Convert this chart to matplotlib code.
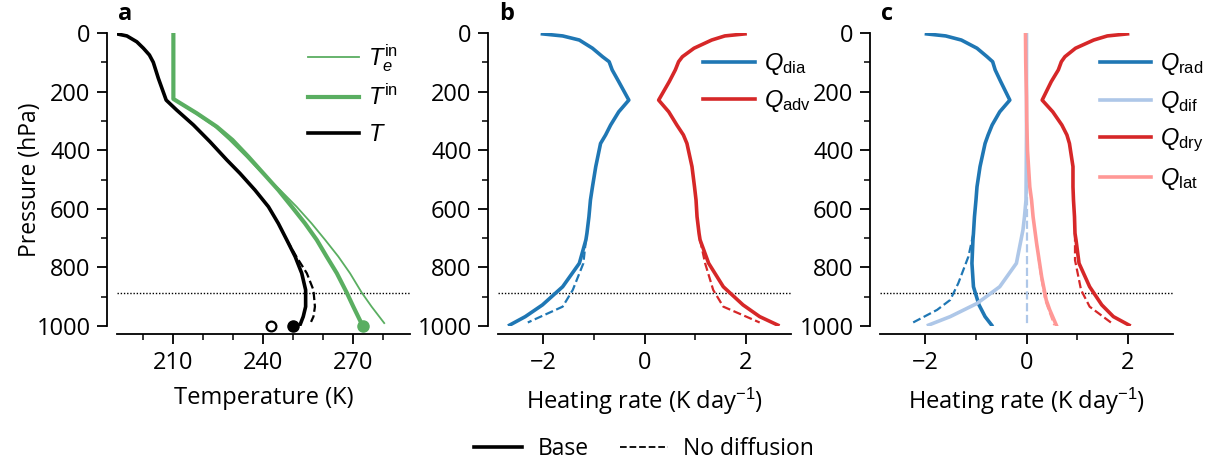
import matplotlib
matplotlib.use("Agg")
import matplotlib.pyplot as plt
from matplotlib.lines import Line2D

plt.rcParams['font.family'] = ['Open Sans', 'DejaVu Sans']
plt.rcParams['font.size'] = 16
plt.rcParams['mathtext.fontset'] = 'custom'
plt.rcParams['mathtext.rm'] = 'Liberation Sans'
plt.rcParams['mathtext.it'] = 'Liberation Sans:italic'
plt.rcParams['axes.linewidth'] = 1.3

# ---- panel a: temperature profiles (K) against pressure (hPa) ----
p_T = [3, 10, 30, 52, 75, 100, 155, 229, 263, 314, 371, 433, 479, 536, 593, 650,
       706, 763, 820, 877, 934, 968, 997]
T_base = [191.3, 194.6, 197.9, 200.1, 202.1, 203.4, 205.1, 207.7, 211.2, 216.8, 222.3,
          227.9, 232.3, 237.3, 241.8, 245.1, 247.9, 250.7, 252.9, 254.2, 254.2, 253.4, 252.3]
p_T_nodif = [706, 763, 820, 877, 934, 968, 986]
T_nodif = [247.9, 251.1, 254.6, 256.8, 257.3, 256.8, 256.0]

p_Tin = [1, 225, 232, 274, 320, 365, 422, 479, 536, 593, 650, 706, 763, 820, 886, 934, 997]
T_in = [210.1, 210.1, 211.2, 217.9, 224.6, 229.8, 235.1, 240.1, 245.1, 249.6, 254.0,
        257.9, 261.2, 264.6, 267.9, 270.1, 273.1]
p_Tein = [225, 232, 274, 320, 365, 422, 479, 536, 593, 650, 706, 763, 820, 886, 934, 990]
T_e_in = [210.1, 211.0, 217.5, 224.0, 228.8, 234.4, 239.7, 245.7, 251.2, 256.2, 260.7,
          265.1, 269.0, 272.9, 276.2, 280.4]

Ts_base, Ts_nodif, Ts_in = 249.9, 242.6, 273.2

# ---- panels b, c: heating rates (K/day) ----
p_Q = [3, 10, 24, 52, 81, 98, 126, 166, 229, 269, 314, 348, 377, 456, 525, 570, 627,
       684, 706, 786, 866, 928, 968, 997]
Q_dia = [-2.02, -1.62, -1.29, -1.03, -0.83, -0.70, -0.64, -0.51, -0.31, -0.51, -0.67,
         -0.77, -0.87, -0.965, -1.03, -1.07, -1.10, -1.14, -1.16, -1.29, -1.62, -2.02,
         -2.36, -2.67]
Q_adv = [1.99, 1.59, 1.33, 0.98, 0.75, 0.675, 0.61, 0.49, 0.28, 0.48, 0.64, 0.77, 0.84,
         0.94, 0.99, 1.02, 1.04, 1.08, 1.10, 1.27, 1.56, 1.95, 2.28, 2.64]
p_b_nodif = [706, 786, 877, 934, 988]
Q_dia_nodif = [-1.16, -1.21, -1.42, -1.62, -2.31]
Q_adv_nodif = [1.10, 1.20, 1.36, 1.56, 2.28]

Q_rad = [-1.98, -1.60, -1.29, -0.98, -0.78, -0.67, -0.62, -0.51, -0.33, -0.53, -0.68,
         -0.76, -0.82, -0.92, -0.98, -1.00, -1.03, -1.05, -1.06, -1.08, -1.05, -0.94,
         -0.82, -0.69]
Q_dry = [2.00, 1.60, 1.33, 0.97, 0.76, 0.69, 0.63, 0.49, 0.31, 0.52, 0.70, 0.80, 0.85,
         0.92, 0.92, 0.93, 0.95, 0.96, 0.98, 1.04, 1.25, 1.49, 1.72, 2.03]
p_dif = [3, 342, 456, 570, 627, 672, 786, 866, 923, 968, 997]
Q_dif = [0, 0, -0.005, -0.01, -0.04, -0.07, -0.20, -0.53, -0.98, -1.51, -1.94]
p_lat = [3, 100, 220, 300, 402, 525, 570, 627, 718, 832, 911, 945, 997]
Q_lat = [-0.02, -0.015, 0, 0.005, 0.02, 0.065, 0.10, 0.13, 0.20, 0.30, 0.39, 0.46, 0.59]

p_rad_nodif = [684, 763, 854, 911, 945, 993]
Q_rad_nodif = [-1.05, -1.15, -1.35, -1.51, -1.77, -2.30]
p_dry_nodif = [684, 775, 877, 934, 993]
Q_dry_nodif = [0.96, 0.96, 1.08, 1.25, 1.71]
p_dif_nodif = [400, 997]
Q_dif_nodif = [0, 0]
p_lat_nodif = [718, 832, 911, 997]
Q_lat_nodif = [0.20, 0.29, 0.37, 0.55]

p_bl = 886  # boundary-layer top

green = '#5aae61'
blue = '#1f77b4'
lblue = '#aec7e8'
red = '#d62728'
lred = '#ff9896'

fig = plt.figure(figsize=(12.18, 4.62), dpi=100)
W, H = 1218, 462
lefts = [117, 498, 880]
axes = [fig.add_axes([x0 / W, (H - 326) / H, 293 / W, 293 / H]) for x0 in lefts]

for ax in axes:
    ax.spines['top'].set_visible(False)
    ax.spines['right'].set_visible(False)
    ax.spines['left'].set_position(('outward', 7))
    ax.spines['bottom'].set_position(('outward', 6))
    ax.set_ylim(1000, 0)
    ax.set_yticks(range(0, 1001, 200))
    ax.set_yticks(range(100, 1000, 200), minor=True)
    ax.tick_params(which='major', length=7, width=1.3, labelsize=17, pad=5)
    ax.tick_params(which='minor', length=4, width=1.1)
    ax.axhline(p_bl, color='black', lw=1.0, ls=(0, (1, 1.3)), zorder=1)

# panel a
ax = axes[0]
ax.plot(T_e_in, p_Tein, color=green, lw=1.3, label=r'$T_e^{\mathrm{in}}$')
ax.plot(T_in, p_Tin, color=green, lw=3, label=r'$T^{\mathrm{in}}$')
ax.plot(T_base, p_T, color='black', lw=2.6, label=r'$T$')
ax.plot(T_nodif, p_T_nodif, color='black', lw=1.6, ls='--')
ax.plot([Ts_base], [1000], 'o', color='black', ms=8, clip_on=False, zorder=5)
ax.plot([Ts_nodif], [1000], 'o', mfc='white', mec='black', mew=1.6, ms=7, clip_on=False, zorder=5)
ax.plot([Ts_in], [1000], 'o', color=green, ms=8, clip_on=False, zorder=5)
ax.set_xlim(191.3, 289)
ax.set_xticks([210, 240, 270])
ax.set_xticks(range(200, 290, 10), minor=True)
ax.set_xlabel('Temperature (K)', fontsize=17, labelpad=8)
ax.set_ylabel('Pressure (hPa)', fontsize=16.5, labelpad=-4)
ax.legend(loc='upper left', bbox_to_anchor=(0.618, 1.0), frameon=False, fontsize=17,
          handlelength=2.2, handletextpad=0.35, labelspacing=0.5, borderaxespad=0)

# panel b
ax = axes[1]
ax.plot(Q_dia, p_Q, color=blue, lw=2.6, label=r'$Q_{\mathrm{dia}}$')
ax.plot(Q_adv, p_Q, color=red, lw=2.6, label=r'$Q_{\mathrm{adv}}$')
ax.plot(Q_dia_nodif, p_b_nodif, color=blue, lw=1.6, ls='--')
ax.plot(Q_adv_nodif, p_b_nodif, color=red, lw=1.6, ls='--')
ax.legend(loc='upper left', bbox_to_anchor=(0.669, 0.97), frameon=False, fontsize=17,
          handlelength=2.2, handletextpad=0.35, labelspacing=0.45, borderaxespad=0)

# panel c
ax = axes[2]
ax.plot(Q_rad, p_Q, color=blue, lw=2.6, label=r'$Q_{\mathrm{rad}}$')
ax.plot(Q_dif, p_dif, color=lblue, lw=2.6, label=r'$Q_{\mathrm{dif}}$')
ax.plot(Q_dry, p_Q, color=red, lw=2.6, label=r'$Q_{\mathrm{dry}}$')
ax.plot(Q_lat, p_lat, color=lred, lw=2.6, label=r'$Q_{\mathrm{lat}}$')
ax.plot(Q_rad_nodif, p_rad_nodif, color=blue, lw=1.6, ls='--')
ax.plot(Q_dif_nodif, p_dif_nodif, color=lblue, lw=1.6, ls='--', zorder=1.5)
ax.plot(Q_dry_nodif, p_dry_nodif, color=red, lw=1.6, ls='--')
ax.plot(Q_lat_nodif, p_lat_nodif, color=lred, lw=1.6, ls='--')
ax.legend(loc='upper left', bbox_to_anchor=(0.717, 0.97), frameon=False, fontsize=17,
          handlelength=2.2, handletextpad=0.35, labelspacing=0.5, borderaxespad=0)

for ax in axes[1:]:
    ax.set_xlim(-2.9, 2.9)
    ax.set_xticks([-2, 0, 2])
    ax.set_xticks([-1, 1], minor=True)
    ax.set_xlabel('Heating rate (K day$^{-1}$)', fontsize=17, labelpad=8)

for ax, lab in zip(axes, 'abc'):
    ax.text(0.003, 1 + 13 / 293, lab, transform=ax.transAxes, fontsize=17,
            fontweight='bold', ha='left', va='baseline')

handles = [Line2D([], [], color='black', lw=2.6),
           Line2D([], [], color='black', lw=1.3, ls='--')]
fig.legend(handles, ['Base', 'No diffusion'], loc='center',
           bbox_to_anchor=(644 / W, 1 - 449 / H), ncol=2, frameon=False, fontsize=16.5,
           handlelength=2.1, columnspacing=1.35, handletextpad=0.68)

fig.savefig('out.png', dpi=100)
